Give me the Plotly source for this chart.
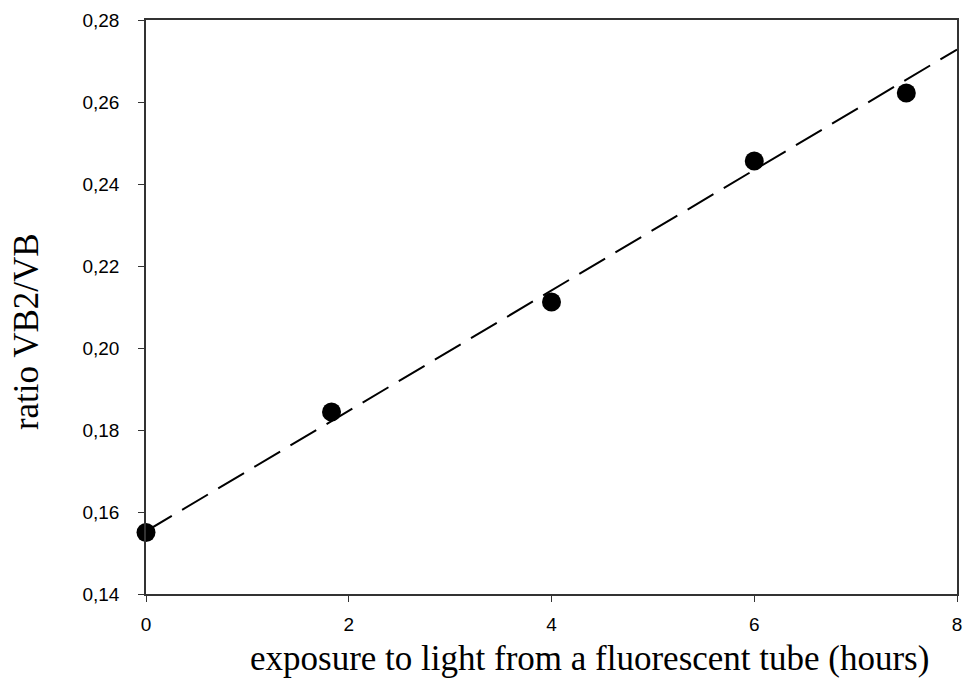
import plotly.graph_objects as go

# data
hours = [0, 1.83, 4.0, 6.0, 7.5]
ratio = [0.155, 0.1844, 0.2112, 0.2456, 0.2622]
fit_x = [0, 8]
fit_y = [0.1553, 0.2728]

x_ticks = [0, 2, 4, 6, 8]
y_ticks = [0.14, 0.16, 0.18, 0.20, 0.22, 0.24, 0.26, 0.28]
y_ticklabels = ["0,14", "0,16", "0,18", "0,20", "0,22", "0,24", "0,26", "0,28"]

x_title = "exposure to light from a fluorescent tube (hours)"
y_title = "ratio VB2/VB"

fig = go.Figure()
fig.add_trace(go.Scatter(x=fit_x, y=fit_y, mode="lines",
                         line=dict(color="black", width=2, dash="30px,12px"),
                         showlegend=False, hoverinfo="skip"))
fig.add_trace(go.Scatter(x=hours, y=ratio, mode="markers",
                         marker=dict(color="black", size=19),
                         showlegend=False, cliponaxis=False))

tick_font = dict(family="Arial, Liberation Sans", size=19, color="black")
axis_common = dict(showline=True, linecolor="#333", linewidth=1.5, mirror=True,
                   ticks="outside", ticklen=6, tickwidth=1.2, tickcolor="#333",
                   showgrid=False, zeroline=False)

fig.update_xaxes(range=[0, 8], tickvals=x_ticks, ticktext=[str(v) for v in x_ticks],
                 tickfont=tick_font, ticklabelstandoff=6, **axis_common)
fig.update_yaxes(range=[0.14, 0.28], tickvals=y_ticks, ticktext=y_ticklabels,
                 tickfont=tick_font, ticklabelstandoff=15, **axis_common)

title_font = dict(family="Liberation Serif, Times New Roman", size=35, color="black")
fig.add_annotation(text=x_title, xref="paper", yref="paper", x=0.547, y=-0.113,
                   xanchor="center", yanchor="middle", showarrow=False, font=title_font)
fig.add_annotation(text=y_title, xref="paper", yref="paper", x=-0.148, y=0.458,
                   xanchor="center", yanchor="middle", textangle=-90, showarrow=False,
                   font=title_font)

fig.update_layout(width=967, height=680, margin=dict(l=146, r=5, t=20, b=86),
                  plot_bgcolor="white", paper_bgcolor="white")

fig.write_html("out.html")
